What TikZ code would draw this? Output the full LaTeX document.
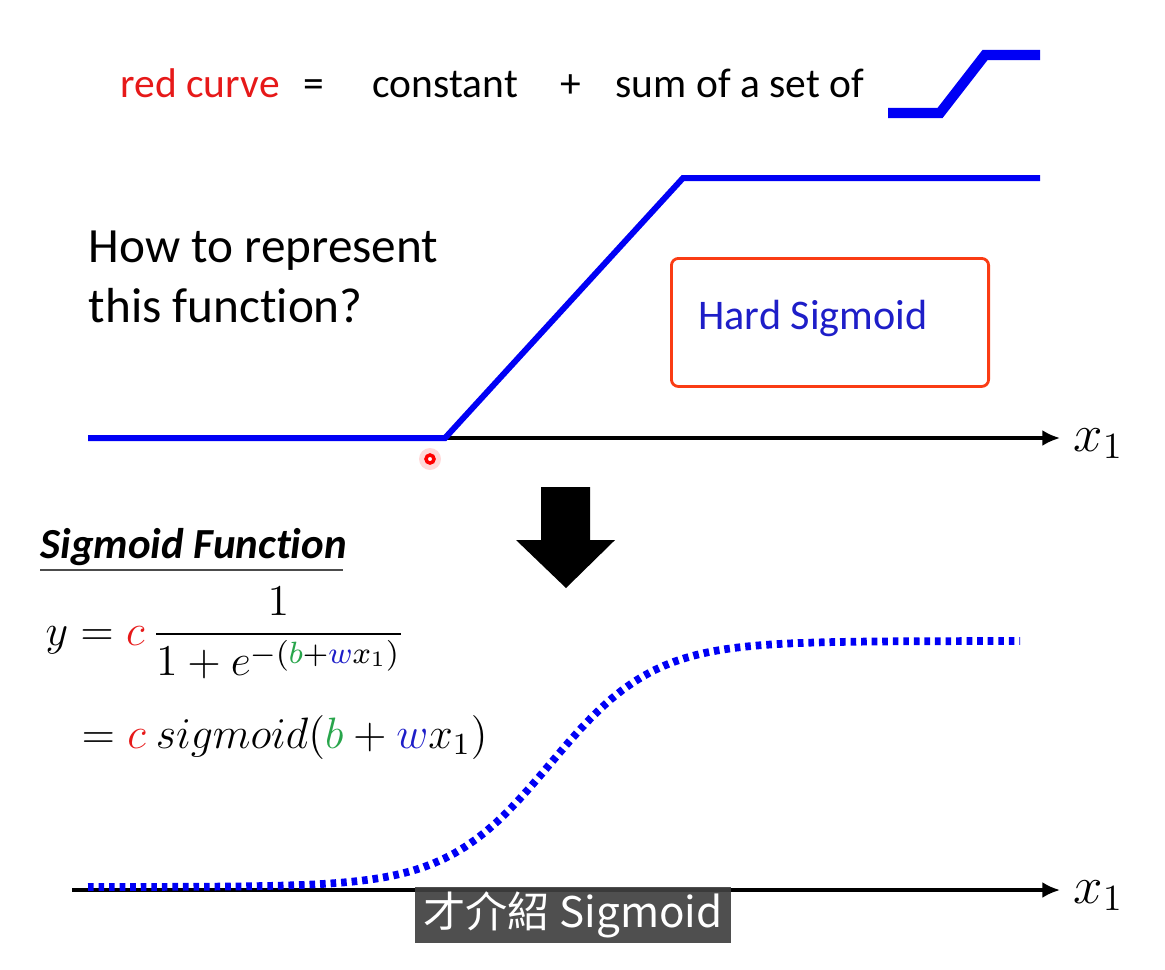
\RequirePackage{fix-cm}
\documentclass[tikz,border=0pt]{standalone}
\usepackage{amsmath}
\usepackage{fontspec}
\setmainfont{Carlito}[Ligatures=NoCommon]
\newfontfamily\cjk{Noto Sans CJK TC}
\usetikzlibrary{arrows.meta}
\definecolor{hsblue}{RGB}{0,0,245}
\definecolor{redtxt}{RGB}{230,25,25}
\definecolor{boxred}{RGB}{250,60,20}
\definecolor{bgreen}{RGB}{40,165,75}
\definecolor{wblue}{RGB}{30,30,200}

\begin{document}
\begin{tikzpicture}[x=0.01cm, y=-0.01cm]
\tikzset{txt/.style={anchor=base west, inner sep=0pt, font=\fontsize{11.8}{14}\selectfont}}
\tikzset{big/.style={anchor=base west, inner sep=0pt, font=\fontsize{14}{17}\selectfont}}
\tikzset{eq/.style={anchor=base west, inner sep=0pt, font=\fontsize{12.5}{15}\selectfont}}
\tikzset{axis/.style={-{Latex[length=5pt,width=4.5pt]}, line width=0.9pt}}
\tikzset{hard/.style={hsblue, line width=1.7pt}}
\tikzset{soft/.style={hsblue, line width=2.2pt, dash pattern=on 1.6pt off 1.4pt}}
\tikzset{hsbox/.style={draw=boxred, line width=0.8pt, rounded corners=2pt, anchor=north west, minimum width=3.17cm, minimum height=1.28cm, text width=2.63cm, inner xsep=0.27cm, align=flush left, text=wblue, font=\fontsize{12}{14}\selectfont}}
\tikzset{subbox/.style={fill=black!75, fill opacity=0.92, text opacity=1, text=white, minimum width=3.16cm, minimum height=0.56cm, inner sep=0pt, font=\cjk\fontsize{12}{14}\selectfont}}
\useasboundingbox (0,0) rectangle (1165,969);

% equation in words
\node[txt, text=redtxt] (red) at (120,97) {red curve};
\node[txt] (eqs) at (303,97) {=};
\node[txt] (const) at (372,97) {constant};
\node[txt] (plus) at (560,97) {+};
\node[txt] (sum) at (615,97) {sum of a set of};
\draw[hsblue, line width=2.9pt] (888,113) -- (940,113) -- (985,55) -- (1040,55);

% hard sigmoid
\coordinate (o1) at (88,438);
\coordinate (k1) at (445,438);
\coordinate (k2) at (683,178);
\coordinate (e1) at (1040,178);
\coordinate (a1) at (1060,438);
\draw[axis] (o1) -- (a1);
\draw[hard] (o1) -- (k1) -- (k2) -- (e1);
\node[eq, font=\fontsize{15}{18}\selectfont] (xa) at (1073,451) {$x_1$};
\node[big] (q1) at (88,262) {How to represent};
\node[big] (q2) at (88,322) {this function?};
\node[hsbox] (hs) at (670,257) {\raisebox{4.5pt}{Hard Sigmoid}};

% pointer
\fill[red, opacity=0.15] (430,459) circle (11);
\draw[red, line width=1pt, fill=white] (430,459) circle (4);

% big arrow
\fill (541,487) -- (590,487) -- (590,540) -- (615,540) -- (566,588) -- (516,540) -- (541,540) -- cycle;

% sigmoid
\node[txt, font=\bfseries\itshape\fontsize{12.2}{14}\selectfont] (sf) at (40,558) {Sigmoid Function};
\draw[black!70, line width=0.5pt] (40,570) -- (343,570);
\node[eq] (eq1) at (45,645) {$\displaystyle y = {\color{redtxt}c}\,\frac{1}{1+e^{-({\color{bgreen}b}+{\color{wblue}w}x_1)}}$};
\node[eq] (eq2) at (81,748) {$= {\color{redtxt}c}\ sigmoid({\color{bgreen}b}+{\color{wblue}w}x_1)$};

\coordinate (o2) at (72,890);
\coordinate (a2) at (1060,890);
\draw[axis] (o2) -- (a2);
\draw[soft] plot[domain=88:1020, samples=90] (\x, {887-246/(1+exp(-(\x-550)/52))});
\node[eq, font=\fontsize{15}{18}\selectfont] (xb) at (1073,903) {$x_1$};

% subtitle
\node[subbox] (cap) at (573,915) {才介紹 Sigmoid};
\end{tikzpicture}
\end{document}
